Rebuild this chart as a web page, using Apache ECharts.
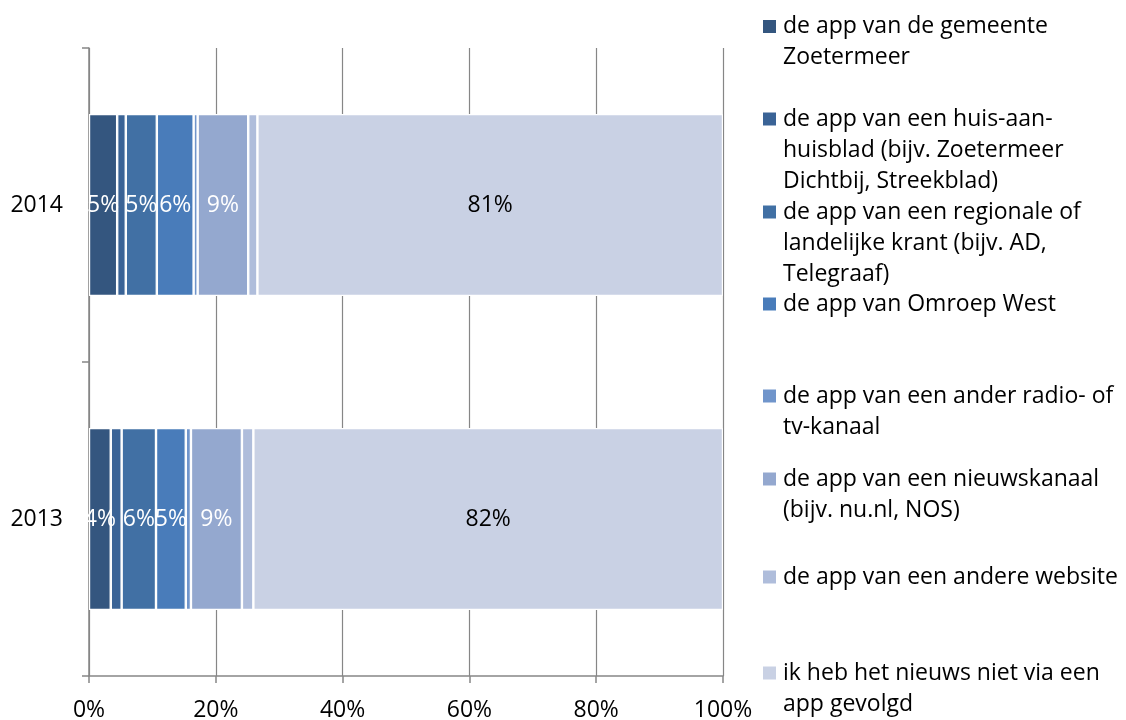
<!DOCTYPE html>
<html>
<head>
<meta charset="utf-8">
<script src="https://cdn.jsdelivr.net/npm/echarts@6/dist/echarts.min.js"></script>
<style>html,body{margin:0;padding:0;background:#fff;}#c{width:1126px;height:720px;}</style>
</head>
<body>
<div id="c"></div>
<script>
var years = ['2013', '2014'];
var seriesNames = [
  'de app van de gemeente Zoetermeer',
  'de app van een huis-aan-huisblad (bijv. Zoetermeer Dichtbij, Streekblad)',
  'de app van een regionale of landelijke krant (bijv. AD, Telegraaf)',
  'de app van Omroep West',
  'de app van een ander radio- of tv-kanaal',
  'de app van een nieuwskanaal (bijv. nu.nl, NOS)',
  'de app van een andere website',
  'ik heb het nieuws niet via een app gevolgd'
];
var legendLines = [
  ['de app van de gemeente', 'Zoetermeer'],
  ['de app van een huis-aan-', 'huisblad (bijv. Zoetermeer', 'Dichtbij, Streekblad)'],
  ['de app van een regionale of', 'landelijke krant (bijv. AD,', 'Telegraaf)'],
  ['de app van Omroep West'],
  ['de app van een ander radio- of', 'tv-kanaal'],
  ['de app van een nieuwskanaal', '(bijv. nu.nl, NOS)'],
  ['de app van een andere website'],
  ['ik heb het nieuws niet via een', 'app gevolgd']
];
// raw values (%), per series
var values2013 = [3.8, 1.9, 6.0, 5.2, 0.9, 8.9, 2.0, 82];
var values2014 = [4.9, 1.5, 5.4, 6.4, 0.7, 8.8, 1.6, 81];
var xTicks = [0, 20, 40, 60, 80, 100];

var colors = ['#34567f', '#3a6396', '#4170a4', '#497cba', '#7095cb', '#94a8cf', '#afbddb', '#c9d1e4'];
var labelColors = ['#fff', '#fff', '#fff', '#fff', '#fff', '#fff', '#fff', '#000'];
var legendCenters = [26.5, 119, 212, 304, 396, 479, 577, 673];

var FONT = '"Open Sans", sans-serif';
var FS = 23;
var LH = 31;

function sum(a) { return a.reduce(function (s, v) { return s + v; }, 0); }
var totals = [sum(values2013), sum(values2014)];
var raw = [values2013, values2014];

var series = seriesNames.map(function (name, i) {
  return {
    name: name,
    type: 'bar',
    stack: 'total',
    barCategoryGap: '42%',
    itemStyle: { color: colors[i], borderColor: '#ffffff', borderWidth: 1.2 },
    label: {
      show: true,
      position: 'inside',
      color: labelColors[i],
      fontFamily: FONT,
      fontSize: FS,
      formatter: function (p) {
        var v = raw[p.dataIndex][i];
        return v < 3 ? '' : Math.round(v) + '%';
      }
    },
    emphasis: { disabled: true },
    data: years.map(function (y, k) { return raw[k][i] / totals[k] * 100; })
  };
});

var legends = seriesNames.map(function (name, i) {
  var n = legendLines[i].length;
  var pre = [];
  for (var j = 0; j < n - 1; j++) pre.push(' ');
  var txt = pre.concat(legendLines[i]).join('\n');
  return {
    data: [name],
    left: 763,
    top: legendCenters[i] - (2 * n - 1) * LH / 2,
    padding: 0,
    icon: 'rect',
    itemWidth: 13,
    itemHeight: 13,
    itemGap: 0,
    selectedMode: false,
    itemStyle: { borderWidth: 0 },
    formatter: function () { return txt; },
    textStyle: {
      fontFamily: FONT,
      fontSize: FS,
      color: '#000',
      lineHeight: LH,
      padding: [0, 0, 0, 2]
    }
  };
});

var chart = echarts.init(document.getElementById('c'), null, { renderer: 'canvas' });
chart.setOption({
  animation: false,
  backgroundColor: '#fff',
  legend: legends,
  grid: { left: 89, right: 403, top: 48, bottom: 44, containLabel: false, outerBoundsMode: 'none' },
  xAxis: {
    type: 'value',
    min: xTicks[0],
    max: xTicks[xTicks.length - 1],
    interval: 20,
    axisLine: { show: true, lineStyle: { color: '#868686', width: 1.5 } },
    axisTick: { show: true, length: 7, lineStyle: { color: '#868686', width: 1.5 } },
    splitLine: { show: true, lineStyle: { color: '#868686', width: 1.2 } },
    axisLabel: {
      fontFamily: FONT, fontSize: FS, color: '#000', margin: 23,
      formatter: function (v) { return v + '%'; }
    }
  },
  yAxis: {
    type: 'category',
    data: years,
    axisLine: { show: true, lineStyle: { color: '#868686', width: 1.5 } },
    axisTick: { show: true, length: 7, lineStyle: { color: '#868686', width: 1.5 } },
    axisLabel: { fontFamily: FONT, fontSize: FS, color: '#000', margin: 26 }
  },
  series: series
});
</script>
</body>
</html>
